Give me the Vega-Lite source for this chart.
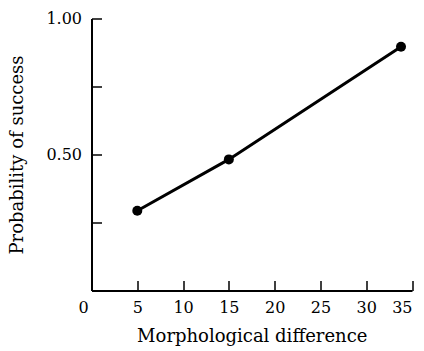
{
  "$schema": "https://vega.github.io/schema/vega-lite/v6.json",
  "autosize": "none",
  "width": 320.5,
  "height": 272,
  "padding": {"left": 91.5, "top": 18.5, "right": 12, "bottom": 60.5},
  "background": "white",
  "config": {
    "view": {"stroke": null},
    "font": "DejaVu Serif",
    "axis": {
      "domainColor": "black",
      "domainWidth": 2,
      "tickColor": "black",
      "tickWidth": 1.5,
      "tickSize": -10,
      "grid": false,
      "labelColor": "black",
      "titleColor": "black",
      "labelFont": "DejaVu Serif",
      "titleFont": "DejaVu Serif",
      "labelFontSize": 16,
      "titleFontSize": 18,
      "titleFontWeight": "normal"
    }
  },
  "data": {
    "values": [
      {"diff": 5, "prob": 0.293},
      {"diff": 15, "prob": 0.482},
      {"diff": 33.8, "prob": 0.896}
    ]
  },
  "encoding": {
    "x": {
      "field": "diff",
      "type": "quantitative",
      "scale": {"domain": [0, 35], "nice": false, "zero": false},
      "axis": {
        "title": "Morphological difference",
        "values": [0, 5, 10, 15, 20, 25, 30, 35],
        "labelPadding": 19,
        "labelOffset": {"condition": {"test": "datum.value == 0", "value": -13.5}, "value": 0},
        "titlePadding": 12
      }
    },
    "y": {
      "field": "prob",
      "type": "quantitative",
      "scale": {"domain": [0, 1], "nice": false},
      "axis": {
        "title": "Probability of success",
        "values": [0.25, 0.5, 0.75, 1],
        "labelExpr": "datum.value == 0.5 || datum.value == 1 ? format(datum.value, '.2f') : ''",
        "labelPadding": 20,
        "titlePadding": 19
      }
    }
  },
  "layer": [
    {"mark": {"type": "line", "color": "black", "strokeWidth": 3}},
    {"mark": {"type": "point", "filled": true, "color": "black", "opacity": 1, "size": 100}}
  ]
}
